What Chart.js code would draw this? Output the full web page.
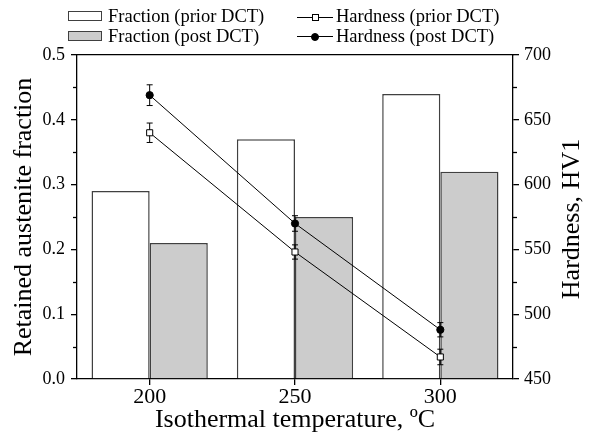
<!DOCTYPE html>
<html>
<head>
<meta charset="utf-8">
<script src="https://cdn.jsdelivr.net/npm/chart.js@4.4.1/dist/chart.umd.min.js"></script>
<style>
  body { margin: 0; background: #fff; }
  #wrap { position: relative; width: 591px; height: 433px; font-family: 'Liberation Serif', 'DejaVu Serif', serif; }
  .lgText { position: absolute; font-size: 18.5px; line-height: 18px; color: #000; white-space: nowrap; }
  .lgBox { position: absolute; width: 32px; height: 8px; border: 1px solid #404040; }
  .lgLine { position: absolute; width: 36px; height: 0; border-top: 1px solid #000; }
  .lgMark { position: absolute; box-sizing: border-box; }
</style>
</head>
<body>
<div id="wrap">
  <canvas id="chart"></canvas>
</div>
<script>
// data
const temperatures = ['200', '250', '300'];
const fractionPrior = [0.29, 0.37, 0.44];
const fractionPost = [0.21, 0.25, 0.32];
const hardnessPrior = [640, 548, 467];
const hardnessPost = [669, 570, 488];
const hardnessPriorErr = [7.5, 5.5, 6];
const hardnessPostErr = [8, 6, 5.5];

const serif = "'Liberation Serif', 'DejaVu Serif', serif";

// error bars for the line datasets, drawn just before each line
const errorBars = {
  id: 'errorBars',
  beforeDatasetDraw(chart, args) {
    const ds = chart.data.datasets[args.index];
    if (!ds.errors) return;
    const meta = chart.getDatasetMeta(args.index);
    const yScale = chart.scales[ds.yAxisID];
    const ctx = chart.ctx;
    ctx.save();
    ctx.strokeStyle = '#000';
    ctx.lineWidth = 1;
    meta.data.forEach((pt, i) => {
      const v = ds.data[i];
      const e = ds.errors[i];
      const top = yScale.getPixelForValue(v + e);
      const bot = yScale.getPixelForValue(v - e);
      ctx.beginPath();
      ctx.moveTo(pt.x, top);
      ctx.lineTo(pt.x, bot);
      ctx.moveTo(pt.x - 3, top);
      ctx.lineTo(pt.x + 3, top);
      ctx.moveTo(pt.x - 3, bot);
      ctx.lineTo(pt.x + 3, bot);
      ctx.stroke();
    });
    ctx.restore();
  }
};

// minor ticks half way between the major ones + right title reading upwards
const axisExtras = {
  id: 'axisExtras',
  afterDraw(chart) {
    const ctx = chart.ctx;
    ctx.save();
    ctx.strokeStyle = '#000';
    ctx.lineWidth = 1.3;
    ['y', 'y2'].forEach(id => {
      const s = chart.scales[id];
      const t = s.ticks;
      for (let i = 0; i < t.length - 1; i++) {
        const py = Math.round(s.getPixelForValue((t[i].value + t[i + 1].value) / 2)) + 0.5;
        ctx.beginPath();
        if (id === 'y') {
          ctx.moveTo(s.right, py);
          ctx.lineTo(s.right - 4, py);
        } else {
          ctx.moveTo(s.left, py);
          ctx.lineTo(s.left + 4, py);
        }
        ctx.stroke();
      }
    });
    const r = chart.scales.y2;
    const area = chart.chartArea;
    ctx.translate(r.left + 66, (area.top + area.bottom) / 2 + 2);
    ctx.rotate(-Math.PI / 2);
    ctx.fillStyle = '#000';
    ctx.font = '26px ' + serif;
    ctx.textAlign = 'center';
    ctx.textBaseline = 'alphabetic';
    ctx.fillText('Hardness, HV1', 0, 0);
    ctx.restore();
  }
};

const axisGrid = {
  display: true,
  drawOnChartArea: false,
  drawTicks: true,
  tickLength: 6,
  color: '#000',
  lineWidth: 1.3
};
const axisBorder = { display: true, color: '#000', width: 1.3 };

const chart = new Chart(document.getElementById('chart'), {
  type: 'bar',
  data: {
    labels: temperatures,
    datasets: [
      {
        type: 'line',
        label: 'Hardness (prior DCT)',
        data: hardnessPrior,
        errors: hardnessPriorErr,
        yAxisID: 'y2',
        order: 0,
        borderColor: '#000',
        borderWidth: 1,
        pointStyle: 'rect',
        pointRadius: 4.3,
        pointBackgroundColor: '#fff',
        pointBorderColor: '#000',
        pointBorderWidth: 1
      },
      {
        type: 'line',
        label: 'Hardness (post DCT)',
        data: hardnessPost,
        errors: hardnessPostErr,
        yAxisID: 'y2',
        order: 0,
        borderColor: '#000',
        borderWidth: 1,
        pointStyle: 'circle',
        pointRadius: 3.6,
        pointBackgroundColor: '#000',
        pointBorderColor: '#000',
        pointBorderWidth: 1
      },
      {
        label: 'Fraction (prior DCT)',
        data: fractionPrior,
        yAxisID: 'y',
        order: 1,
        backgroundColor: '#ffffff',
        borderColor: '#404040',
        borderWidth: 1.5,
        categoryPercentage: 0.8,
        barPercentage: 1
      },
      {
        label: 'Fraction (post DCT)',
        data: fractionPost,
        yAxisID: 'y',
        order: 1,
        backgroundColor: '#cccccc',
        borderColor: '#404040',
        borderWidth: 1.5,
        categoryPercentage: 0.8,
        barPercentage: 1
      }
    ]
  },
  options: {
    responsive: true,
    maintainAspectRatio: false,
    animation: false,
    layout: { padding: 0 },
    plugins: {
      legend: { display: false },
      tooltip: { enabled: false }
    },
    scales: {
      x: {
        type: 'category',
        position: 'bottom',
        offset: true,
        grid: Object.assign({}, axisGrid, { offset: false }),
        border: axisBorder,
        ticks: { color: '#000', padding: 1, font: { family: serif, size: 22, lineHeight: 1 } },
        title: {
          display: true,
          text: 'Isothermal temperature, ºC',
          color: '#000',
          font: { family: serif, size: 26, lineHeight: 1 },
          padding: { top: 0, bottom: 0 }
        },
        afterFit: s => { s.height = 54; }
      },
      x2: {
        type: 'category',
        position: 'top',
        offset: true,
        grid: { display: true, drawOnChartArea: false, drawTicks: false },
        border: axisBorder,
        ticks: { display: false },
        afterFit: s => { s.height = 55; }
      },
      y: {
        position: 'left',
        min: 0,
        max: 0.5,
        grid: axisGrid,
        border: axisBorder,
        ticks: {
          stepSize: 0.1,
          padding: 6,
          color: '#000',
          font: { family: serif, size: 18 },
          callback: v => v.toFixed(1)
        },
        title: {
          display: true,
          text: 'Retained austenite fraction',
          color: '#000',
          font: { family: serif, size: 26, lineHeight: 1 },
          padding: { top: 11, bottom: 0 }
        },
        afterFit: s => { s.width = 77; }
      },
      y2: {
        position: 'right',
        min: 450,
        max: 700,
        grid: axisGrid,
        border: axisBorder,
        ticks: {
          stepSize: 50,
          padding: 5,
          color: '#000',
          font: { family: serif, size: 18 }
        },
        afterFit: s => { s.width = 78; }
      }
    }
  },
  plugins: [errorBars, axisExtras]
});

// two-column legend above the frame: bars on the left, lines on the right
const wrap = document.getElementById('wrap');
const rowTop = [7, 26.5];
chart.data.datasets.forEach(ds => {
  const row = ds.label.indexOf('prior') >= 0 ? 0 : 1;
  const isLine = ds.type === 'line';
  const text = document.createElement('div');
  text.className = 'lgText';
  text.textContent = ds.label;
  text.style.left = (isLine ? 336 : 108) + 'px';
  text.style.top = rowTop[row] + 'px';
  wrap.appendChild(text);
  if (!isLine) {
    const box = document.createElement('div');
    box.className = 'lgBox';
    box.style.left = '68px';
    box.style.top = (rowTop[row] + 4) + 'px';
    box.style.background = ds.backgroundColor;
    box.style.borderColor = ds.borderColor;
    wrap.appendChild(box);
  } else {
    const cy = rowTop[row] + 9.5;
    const ln = document.createElement('div');
    ln.className = 'lgLine';
    ln.style.left = '297px';
    ln.style.top = Math.round(cy) + 'px';
    wrap.appendChild(ln);
    const mk = document.createElement('div');
    mk.className = 'lgMark';
    const sz = ds.pointStyle === 'rect' ? 7 : 8;
    mk.style.width = sz + 'px';
    mk.style.height = sz + 'px';
    mk.style.left = (315 - sz / 2) + 'px';
    mk.style.top = (Math.round(cy) + 0.5 - sz / 2) + 'px';
    mk.style.background = ds.pointBackgroundColor;
    mk.style.border = '1px solid ' + ds.pointBorderColor;
    if (ds.pointStyle === 'circle') mk.style.borderRadius = '50%';
    wrap.appendChild(mk);
  }
});
</script>
</body>
</html>
